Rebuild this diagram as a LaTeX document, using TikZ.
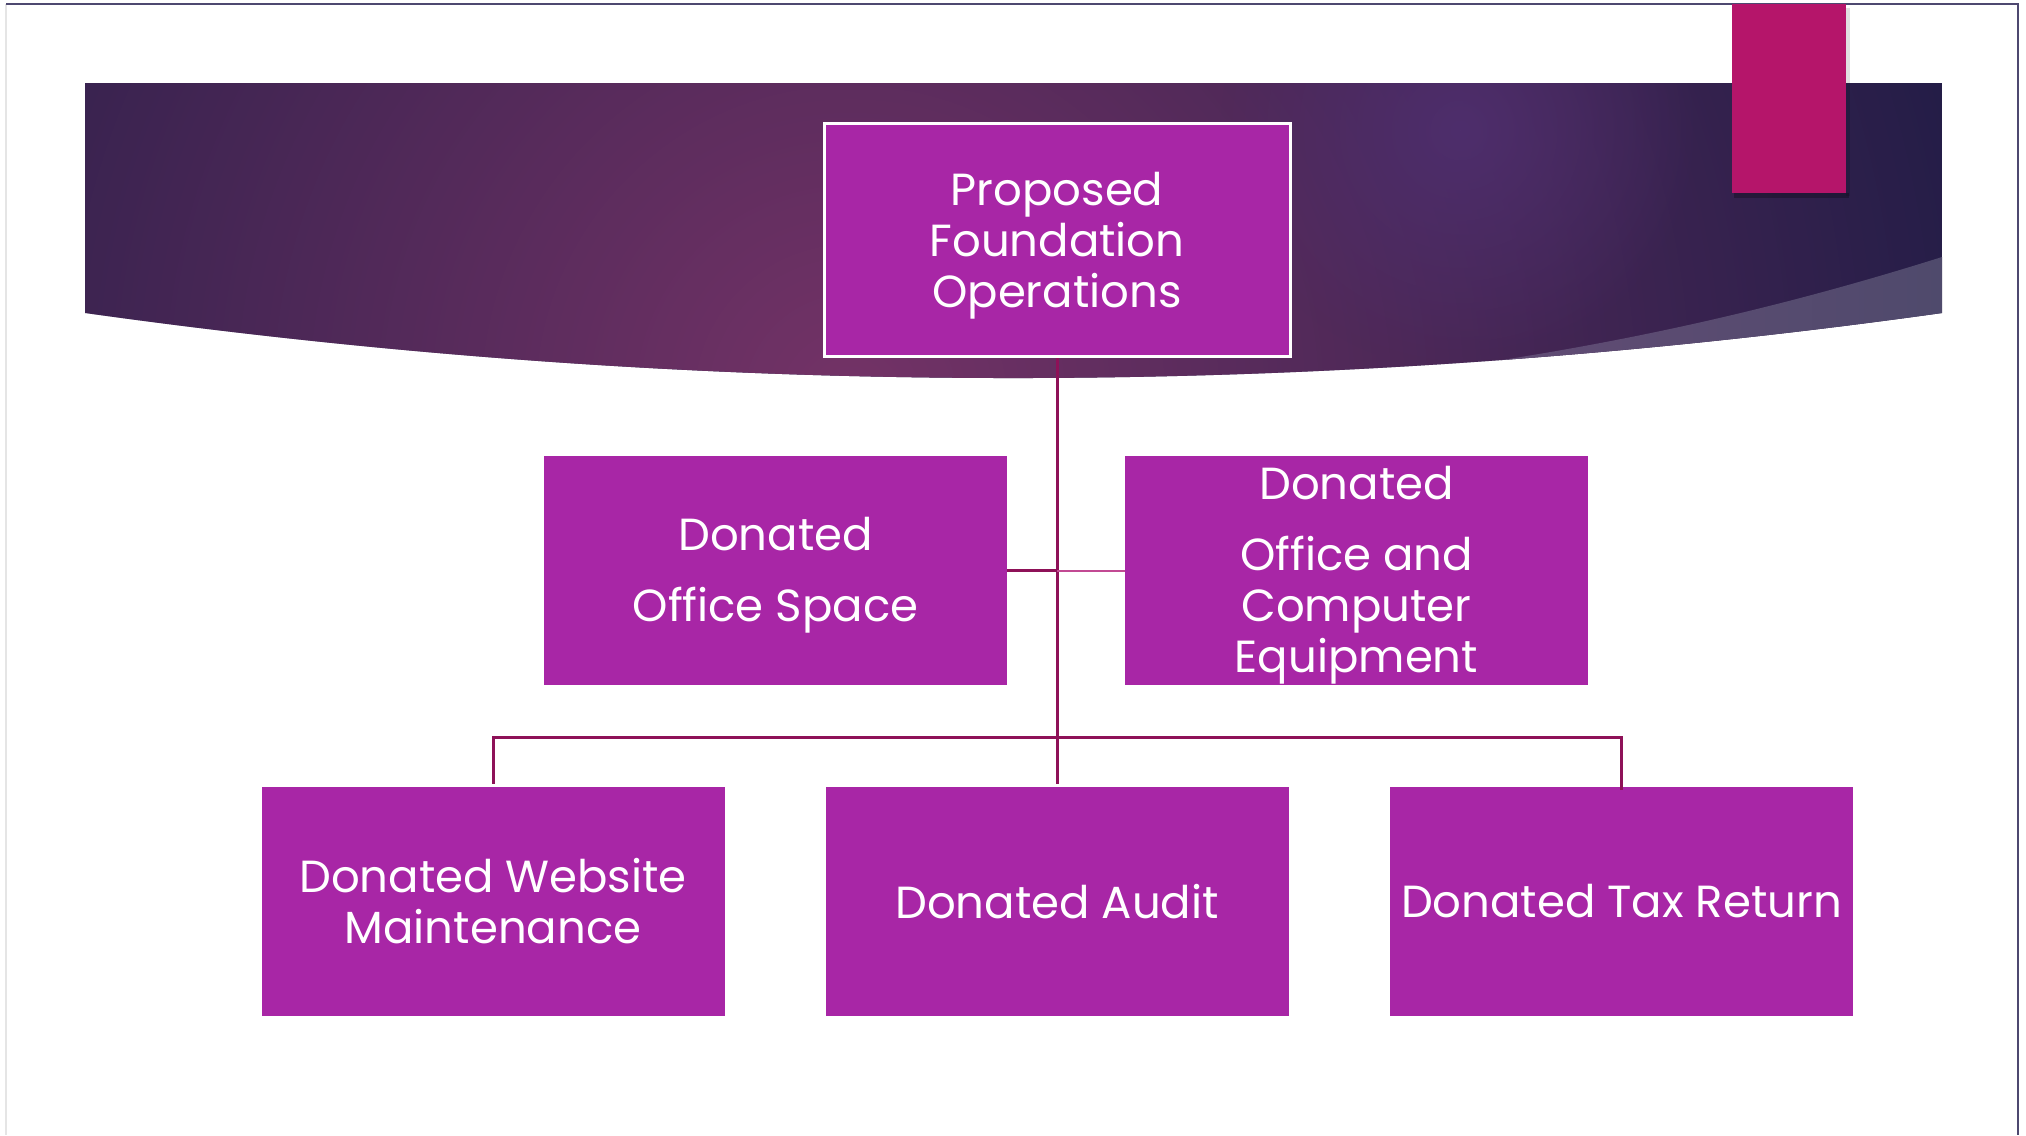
\documentclass[tikz,border=0pt]{standalone}
\usepackage{fontspec}
\setmainfont{Poppins}
\usetikzlibrary{fadings}
\definecolor{boxfill}{HTML}{A826A6}
\definecolor{linec}{HTML}{8E1158}
\definecolor{stubc}{HTML}{C24A93}
\definecolor{tabc}{HTML}{B5156A}
\definecolor{navy}{HTML}{231D47}
\definecolor{plum}{HTML}{743367}
\definecolor{glowc}{HTML}{4E2E6C}
\definecolor{sheenL}{HTML}{654C76}
\definecolor{sheenR}{HTML}{4F4A6C}
\definecolor{framec}{HTML}{4E4870}
\tikzfading[name=softglow, inner color=transparent!0, outer color=transparent!100]
\tikzset{
  orgbox/.style={fill=boxfill, text=white, align=center, inner sep=0pt,
    minimum width=463pt, minimum height=229pt,
    font=\fontsize{45}{51}\selectfont},
  conn/.style={draw=linec, line width=3pt},
}
\begin{document}
\begin{tikzpicture}[x=1pt,y=-1pt]
\useasboundingbox (0,0) rectangle (2026,1135);
\fill[white] (0,0) rectangle (2026,1135);
% slide frame
\draw[black!10, line width=1.5pt] (6,4) -- (6,1135);
\draw[framec, line width=1.5pt] (6,4) -- (2018,4) -- (2018,1135);
% banner
\begin{scope}
  \clip (85,83) -- (1942,83) -- (1942,313) .. controls (1322.7,399.7) and (703.7,399.7) .. (85,313) -- cycle;
  \fill[navy] (85,83) rectangle (1942,450);
  \fill[plum, path fading=softglow] (850,400) circle (1150pt);
  \fill[glowc, path fading=softglow] (1460,130) circle (240pt);
  \shade[left color=sheenL, right color=sheenR]
    (1942,257) .. controls (1780,308) and (1620,345) .. (1420,372) -- (1420,460) -- (1942,460) -- cycle;
\end{scope}
% pink tab with shadow
\fill[black, opacity=0.25] (1734,193) rectangle (1849,198);
\fill[black, opacity=0.12] (1846,8) rectangle (1850,196);
\fill[tabc] (1732,4) rectangle (1846,193);
% nodes
\node[orgbox, draw=white, line width=3pt, minimum width=466pt, minimum height=233pt] (top) at (1057,240)
  {\rule{0pt}{44pt}Proposed\\Foundation\\Operations};
\node[orgbox] (ml) at (775.5,570.5) {\rule{0pt}{42pt}Donated\\[20pt]Office Space};
\node[orgbox] (mr) at (1356.5,570.5) {\rule{0pt}{42pt}Donated\\[20pt]Office and\\Computer\\Equipment};
\node[orgbox] (b1) at (493,901.5) {Donated Website\\Maintenance};
\node[orgbox] (b2) at (1057,901.5) {Donated Audit};
\node[orgbox] (b3) at (1621.5,901.5) {Donated Tax Return};
% connectors
\coordinate (bus) at (1057,737);
\draw[conn, shorten >=3pt] (top.south) -- (b2.north);
\draw[conn] (ml.east) -- (top.south |- ml.east);
\draw[draw=stubc, line width=2pt] (mr.west) -- (top.south |- mr.west);
\draw[conn, shorten <=3pt] (b1.north) -- (b1.north |- bus) -- (b3.north |- bus) -- ([yshift=-3pt]b3.north);
\end{tikzpicture}
\end{document}
